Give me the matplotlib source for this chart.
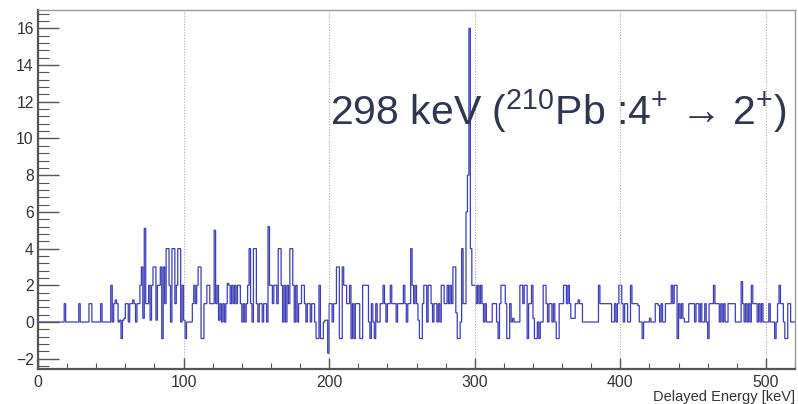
import numpy as np
import matplotlib
matplotlib.use("Agg")
import matplotlib.pyplot as plt
from matplotlib.ticker import MultipleLocator

plt.rcParams['font.family'] = ['Liberation Sans', 'DejaVu Sans']
plt.rcParams['mathtext.fontset'] = 'custom'
plt.rcParams['mathtext.rm'] = 'Liberation Sans'
plt.rcParams['mathtext.it'] = 'Liberation Sans:italic'

# counts per 1 keV bin, 0..520 keV (background subtracted)
r000 = [0, 0, 0, 0, 0, 0, 0, 0, 0, 0, 0, 0, 0, 0, 0, 0, 0, 0, 1, 0]
r020 = [0, 0, 0, 0, 0, 0, 0, 0, 1, 0, 0, 0, 0, 0, 0, 1, 1, 0, 0, 0]
r040 = [0, 0, 0, 1, 0, 0, 0, 0, 0, 0, 2, 0, 1, 1.2, 1, 0, 0.1, -0.9, 0.1, 0.2]
r060 = [1, 1, 0, 1, 1, 1.2, 1, 0, 1, 1, 2, 3, 0.2, 5.1, 1, 1, 2, 0.1, 2, 3]
r080 = [3, 0.1, 2, 2, 3, -0.9, 3, 1, 4, 4, 2, 0, 4, 4, 1, 2, 4, 4, 0, 2]
r100 = [0.1, -0.9, 0, 0, 0, 0, 1, 2, 1, 2, 3, 3, -0.9, -0.9, 1, 1, 2, 2, 1, 1]
r120 = [1, 5, 1, 2, 0.1, 1, 0, 1, 0, 1, 2.1, 2, 1, 2, 1, 2, 1, 2, 2, 1]
r140 = [0, 1, 0, 1, 2, 4, 1, 0, 4, 4, 1, 0, 1, 1, 0, 1, 1, 0, 5.2, 2]
r160 = [2, 1, 2, 2, 1, 4, 4, 2, 0, 2, 0, 2, 1, 4, 4, 2, 0, 2, 0, 1]
r180 = [1, 2, 2, 1, 0, 1, 1, 0, 1, 1, 0, -0.9, -0.9, 2, -0.9, -0.9, 0, 0.1, 0.1, -1.7]
r200 = [1, 1, 0, 1, 1, 3, 3, -0.9, -0.9, 3, 2, 2, 1, 1, 2, -0.9, 1, -0.9, 1, 1]
r220 = [1, -0.9, -0.9, 2, 2, 2, 2, 0, -0.9, 1, 0, -0.9, 1, 0, 0, 1, 1, 2, 1, 0]
r240 = [1, 1, 2, 1, 1, 1, 0, 1, 1, 1, 1, 2, 1, 0, 1, 1, 4, 2, 1, 2]
r260 = [1, 0.1, -0.9, -0.9, 1, 2, 2, 0, 2, 2, 1, 0, 1, 1, 0, 1, 0, 2, 2, 1]
r280 = [1, 2, 1, 2, 1, 3, 3, 0.5, -0.9, -0.9, 0, 4, 1, 1, 6, 8, 16, 4, 2, 2]
r300 = [2, 1, 2, 1, 2, 1, 0, 1, 0, 0, 0, 0, 1, 1, 1, 0, -0.9, 1, 2, 2]
r320 = [2, 1, -0.9, -0.9, 1, 0, 0.2, 0, 0, 0, 0, 2, 2, 1, 2, 2, -0.9, 1, 1, 2]
r340 = [0.2, -0.9, -0.9, 0, -0.9, 0, 0, 2, 2, 1, 0, 1, 1, 0, 1, 0, -0.9, -0.9, 1, 1]
r360 = [1, 2, 2, 1, 2, 1, 0.2, 0.2, 0.2, 1, 1, 1.2, 1, 1, 0, 0, 0, 0, 0, 0]
r380 = [0, 0, 0, 0, 0, 2, 1, 1, 1, 1, 1, 1, 1, 1, 0, 0, 1, 0, 1, 2]
r400 = [2, 1, 0, 1, 1, 0, 0, 2, 1, 1, 1, 1, 0.9, 0, 0, -0.9, 0, 0, 0, 0]
r420 = [0.2, 0, 0, 0, 1, 1, 0.9, 0, 1, 0, 0, 1, 1, 1, 1, 2, 1, 2, 2, -0.9]
r440 = [1, 0.2, 1, 0.2, 0, 0, 0, 1, 1, 1, 1, 0, 1, 1, 0, 1, 0, 0, 1, 0]
r460 = [-0.9, 1, 1, 1, 2, 1, 1, 1, 0, 1, 0, 1, 0, 0, 1, 1, 1, 1, 1, 0]
r480 = [0, 0, 0, 2.2, 1, 0, 1, 0, 1, 0, 2, 1, 1, 1, 0, 1, 0, 1, 0, 0]
r500 = [0, 0, 1, 0, 0, 0, -0.9, 0, 1, 2, 1, 1, 0, -0.9, -0.9, 1, 1, 0, 0, 0]

counts = np.array(r000 + r020 + r040 + r060 + r080 + r100 + r120 + r140 + r160
                  + r180 + r200 + r220 + r240 + r260 + r280 + r300 + r320
                  + r340 + r360 + r380 + r400 + r420 + r440 + r460 + r480
                  + r500)
edges = np.arange(len(counts) + 1)  # 1 keV bins

fig = plt.figure(figsize=(7.98, 4.04), dpi=100)
ax = fig.add_axes([38 / 798, 35 / 404, 757 / 798, 359 / 404])

ax.stairs(counts, edges, baseline=None, color='#3d3db8', lw=0.9)

ax.set_xlim(0, 520)
ax.set_ylim(-2.56, 17.0)

ax.xaxis.set_major_locator(MultipleLocator(100))
ax.xaxis.set_minor_locator(MultipleLocator(20))
ax.yaxis.set_major_locator(MultipleLocator(2))
ax.yaxis.set_minor_locator(MultipleLocator(0.4))

ax.tick_params(axis='both', which='both', direction='in', colors='#555555',
               labelcolor='#333333', labelsize=11.3)
ax.tick_params(axis='y', which='major', length=15, width=1, pad=3)
ax.tick_params(axis='y', which='minor', length=8, width=0.8)
ax.tick_params(axis='x', which='major', length=8, width=1, pad=4)
ax.tick_params(axis='x', which='minor', length=4, width=0.8)

ax.grid(axis='x', which='major', color='#aaaaaa', lw=0.8, ls=(0, (1, 1.5)))

for side in ['left', 'bottom']:
    ax.spines[side].set_color('#555555')
    ax.spines[side].set_linewidth(1.6)
for side in ['top', 'right']:
    ax.spines[side].set_color('#999999')
    ax.spines[side].set_linewidth(1.0)

ax.set_xlabel('Delayed Energy [keV]', loc='right', fontsize=10.5,
              color='#333333', labelpad=0)

ax.text(200.7, 10.75, r'298 keV ($^{210}$Pb :4$^{+}$ → 2$^{+}$)',
        fontsize=29.5, color='#2e3650', ha='left', va='baseline')

fig.savefig('out.png', dpi=100)
